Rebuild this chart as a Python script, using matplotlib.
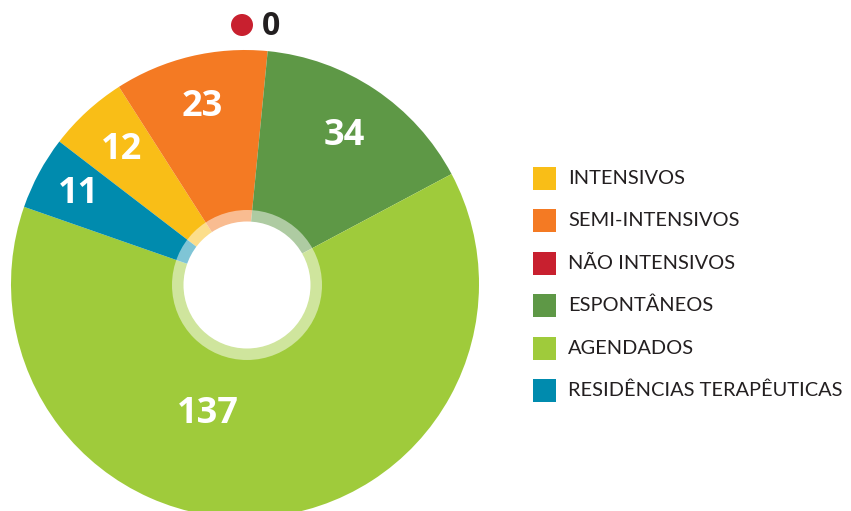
import numpy as np
import matplotlib.pyplot as plt
from matplotlib.patches import Circle, Rectangle

# Data
categories = ['INTENSIVOS', 'SEMI-INTENSIVOS', 'NÃO INTENSIVOS', 'ESPONTÂNEOS',
              'AGENDADOS', 'RESIDÊNCIAS TERAPÊUTICAS']
values = [12, 23, 0, 34, 137, 11]
colors = ['#F9BE17', '#F47A23', '#C8202F', '#5E9846', '#9FCB3B', '#008BAE']

plt.rcParams['font.family'] = ['Lato', 'DejaVu Sans']
num_font = ['Open Sans', 'DejaVu Sans']

W, H = 851, 511
fig = plt.figure(figsize=(W / 100, H / 100), dpi=100)
ax = fig.add_axes([0, 0, 1, 1])

# pixel layout (y measured from the top of the image)
cx, cy, R = 245, H - 284, 234
hx, hy = 247, H - 285

wedges, _ = ax.pie(values, colors=colors, startangle=142.5, counterclock=False,
                   center=(cx, cy), radius=R, frame=True,
                   wedgeprops=dict(linewidth=0))
ax.set_xlim(0, W)
ax.set_ylim(0, H)
ax.set_aspect('equal')
ax.axis('off')

# hole with translucent ring
ax.add_patch(Circle((hx, hy), 75, facecolor='white', alpha=0.5, lw=0, zorder=3))
ax.add_patch(Circle((hx, hy), 63.5, facecolor='white', lw=0, zorder=4))

# value labels inside the slices (radius fraction, optional angle override)
label_pos = {0: (0.78, None), 1: (0.78, None), 3: (0.76, None),
             4: (0.58, -106), 5: (0.81, None)}
for i, w in enumerate(wedges):
    if i not in label_pos:
        continue
    frac, ang = label_pos[i]
    if ang is None:
        ang = (w.theta1 + w.theta2) / 2
    a = np.deg2rad(ang)
    ax.text(cx + frac * R * np.cos(a), cy + frac * R * np.sin(a), str(values[i]),
            color='white', fontsize=26, fontweight='bold', family=num_font,
            ha='center', va='center', zorder=5)

# zero-valued category marked above the chart
zero_idx = values.index(0)
ax.add_patch(Circle((242, H - 25), 11, facecolor=colors[zero_idx], lw=0))
ax.text(271, H - 26, str(values[zero_idx]), color='#231F20', fontsize=23,
        fontweight='bold', family=num_font, ha='center', va='center')

# legend
for i, (lab, col) in enumerate(zip(categories, colors)):
    y = H - (178 + i * 42.5)
    ax.add_patch(Rectangle((533, y - 11.5), 23, 23, facecolor=col, lw=0))
    ax.text(568, y, lab, color='#231F20', fontsize=14.4, va='center', ha='left')

fig.savefig('out.png', dpi=100)
